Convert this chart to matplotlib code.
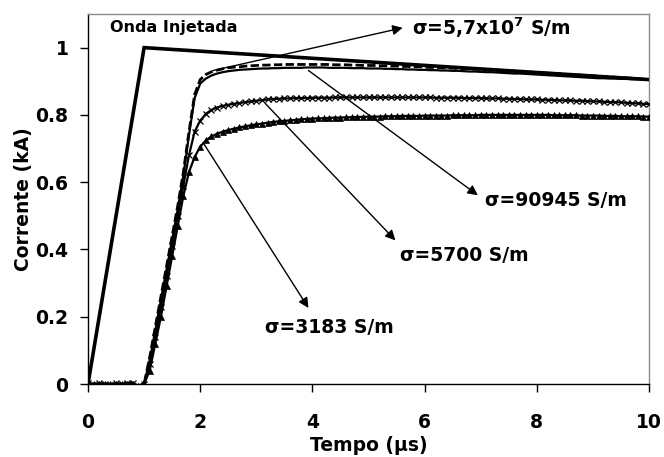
import numpy as np
import matplotlib
matplotlib.use("Agg")
import matplotlib.pyplot as plt

plt.rcParams['font.family'] = ['DejaVu Sans']
plt.rcParams['font.weight'] = 'bold'
plt.rcParams['mathtext.fontset'] = 'dejavusans'

# Time base (µs), 0.1 µs step
t = np.linspace(0, 10, 101)

# Injected wave
t_inj = [0.0, 1.0, 10.0]
i_inj = [0.0, 1.0, 0.905]

# Current for sigma = 5.7e7 S/m (kA)
s_57e7 = [0, 0, 0, 0, 0, 0, 0, 0, 0, -0.005,
          0.0,
          0.08, 0.17, 0.26, 0.35, 0.44, 0.53, 0.63, 0.75, 0.86, 0.905,
          0.92, 0.928, 0.933, 0.937, 0.94, 0.942, 0.943, 0.945, 0.946, 0.947,
          0.948, 0.948, 0.949, 0.949, 0.95, 0.95, 0.95, 0.95, 0.95, 0.95,
          0.95, 0.95, 0.95, 0.949, 0.949, 0.949, 0.948, 0.948, 0.947, 0.947,
          0.947, 0.946, 0.946, 0.945, 0.945, 0.944, 0.944, 0.943, 0.943, 0.942,
          0.941, 0.941, 0.94, 0.94, 0.939, 0.938, 0.938, 0.937, 0.936, 0.936,
          0.935, 0.934, 0.933, 0.932, 0.931, 0.93, 0.929, 0.928, 0.927, 0.926,
          0.925, 0.924, 0.923, 0.922, 0.921, 0.92, 0.919, 0.918, 0.917, 0.916,
          0.915, 0.914, 0.913, 0.912, 0.911, 0.91, 0.909, 0.908, 0.906, 0.905]

# Current for sigma = 90945 S/m (kA)
s_90945 = [0, 0, 0, 0, 0, 0, 0, 0, 0, -0.005,
           0.0,
           0.07, 0.16, 0.25, 0.34, 0.43, 0.52, 0.62, 0.74, 0.85, 0.893,
           0.908, 0.917, 0.923, 0.927, 0.93, 0.932, 0.934, 0.935, 0.936, 0.937,
           0.938, 0.938, 0.939, 0.939, 0.94, 0.94, 0.94, 0.94, 0.941, 0.941,
           0.941, 0.941, 0.94, 0.94, 0.94, 0.94, 0.939, 0.939, 0.939, 0.938,
           0.938, 0.938, 0.937, 0.937, 0.936, 0.936, 0.935, 0.935, 0.934, 0.934,
           0.933, 0.933, 0.932, 0.932, 0.931, 0.931, 0.93, 0.929, 0.929, 0.928,
           0.927, 0.927, 0.926, 0.925, 0.924, 0.923, 0.923, 0.922, 0.921, 0.92,
           0.919, 0.918, 0.917, 0.916, 0.915, 0.914, 0.913, 0.912, 0.911, 0.91,
           0.909, 0.909, 0.908, 0.908, 0.907, 0.907, 0.906, 0.906, 0.905, 0.905]

# Current for sigma = 5700 S/m (kA)
s_5700 = [0.003, -0.002, 0.002, 0, -0.003, 0.002, 0, 0.003, 0.004, -0.01,
          0.0,
          0.06, 0.14, 0.23, 0.32, 0.41, 0.50, 0.59, 0.68, 0.75, 0.783,
          0.803, 0.815, 0.822, 0.827, 0.83, 0.833, 0.835, 0.838, 0.84, 0.842,
          0.844, 0.846, 0.847, 0.848, 0.849, 0.849, 0.85, 0.85, 0.85, 0.851,
          0.851, 0.851, 0.851, 0.852, 0.852, 0.852, 0.852, 0.852, 0.852, 0.852,
          0.852, 0.852, 0.852, 0.852, 0.852, 0.852, 0.852, 0.852, 0.852, 0.852,
          0.852, 0.851, 0.851, 0.851, 0.851, 0.851, 0.85, 0.85, 0.85, 0.85,
          0.849, 0.849, 0.849, 0.848, 0.848, 0.847, 0.847, 0.846, 0.846, 0.846,
          0.845, 0.845, 0.844, 0.844, 0.843, 0.843, 0.842, 0.842, 0.841, 0.84,
          0.84, 0.839, 0.838, 0.838, 0.837, 0.836, 0.835, 0.834, 0.833, 0.832]

# Current for sigma = 3183 S/m (kA)
s_3183 = [0, 0, 0, 0, 0, 0, 0, 0, 0, -0.005,
          0.0,
          0.04, 0.12, 0.2, 0.29, 0.38, 0.47, 0.56, 0.63, 0.675, 0.705,
          0.724, 0.736, 0.744, 0.75, 0.755, 0.759, 0.763, 0.766, 0.769, 0.772,
          0.774, 0.777, 0.779, 0.781, 0.782, 0.784, 0.785, 0.787, 0.788, 0.789,
          0.79, 0.79, 0.791, 0.792, 0.792, 0.793, 0.793, 0.794, 0.794, 0.795,
          0.795, 0.795, 0.796, 0.796, 0.796, 0.797, 0.797, 0.797, 0.797, 0.798,
          0.798, 0.798, 0.798, 0.798, 0.799, 0.799, 0.799, 0.799, 0.799, 0.8,
          0.8, 0.8, 0.8, 0.8, 0.8, 0.8, 0.8, 0.8, 0.8, 0.8,
          0.8, 0.8, 0.799, 0.799, 0.799, 0.799, 0.799, 0.798, 0.798, 0.798,
          0.798, 0.797, 0.797, 0.797, 0.796, 0.796, 0.796, 0.796, 0.795, 0.795]

x_ticks = [0, 2, 4, 6, 8, 10]
y_ticks = [0, 0.2, 0.4, 0.6, 0.8, 1]
y_tick_labels = ['0', '0.2', '0.4', '0.6', '0.8', '1']

fig = plt.figure(figsize=(6.64, 4.57), dpi=100)
ax = fig.add_axes([88 / 664, 73 / 457, 561 / 664, 370 / 457])

ax.plot(t_inj, i_inj, color='black', lw=2.6, solid_joinstyle='miter', zorder=5)
ax.plot(t, s_57e7, color='black', lw=2.0, linestyle=(0, (3, 1.2)), zorder=4)
ax.plot(t, s_90945, color='black', lw=1.6, zorder=4)
ax.plot(t, s_5700, color='black', lw=1.6, marker='x', markersize=4.5,
        markeredgewidth=0.9, zorder=4)
ax.plot(t, s_3183, color='black', lw=1.6, marker='^', markersize=3.8,
        markeredgewidth=0.5, zorder=4)

ax.set_xlim(0, 10)
ax.set_ylim(0, 1.1)
ax.set_xticks(x_ticks)
ax.set_xticklabels([str(v) for v in x_ticks])
ax.set_yticks(y_ticks)
ax.set_yticklabels(y_tick_labels)
ax.tick_params(axis='both', direction='out', length=6, width=1,
               labelsize=13.5, colors='black')
ax.tick_params(axis='x', pad=15)
ax.tick_params(axis='y', pad=8)

for side in ('left', 'bottom'):
    ax.spines[side].set_color('black')
    ax.spines[side].set_linewidth(1.0)
for side in ('top', 'right'):
    ax.spines[side].set_color('#8c8c8c')
    ax.spines[side].set_linewidth(1.0)

ax.set_xlabel('Tempo (µs)', fontsize=13.5, fontweight='bold', labelpad=3)
ax.set_ylabel('Corrente (kA)', fontsize=13.5, fontweight='bold', labelpad=2)

ax.text(0.39, 1.059, 'Onda Injetada', fontsize=11.5, fontweight='bold',
        ha='left', va='center')

arrow = dict(arrowstyle='-|>', color='black', lw=1.0, mutation_scale=15,
             shrinkA=0, shrinkB=0)
ax.annotate('', xy=(5.61, 1.059), xytext=(2.23, 0.932), arrowprops=arrow)
ax.text(5.78, 1.059, r'σ=5,7x10$^{7}$ S/m', fontsize=13.5, fontweight='bold',
        ha='left', va='center')

ax.annotate('', xy=(6.95, 0.561), xytext=(3.93, 0.932), arrowprops=arrow)
ax.text(7.07, 0.546, 'σ=90945 S/m', fontsize=13.5, fontweight='bold',
        ha='left', va='center')

ax.annotate('', xy=(5.48, 0.427), xytext=(3.16, 0.834), arrowprops=arrow)
ax.text(5.57, 0.383, 'σ=5700 S/m', fontsize=13.5, fontweight='bold',
        ha='left', va='center')

ax.annotate('', xy=(3.93, 0.226), xytext=(2.05, 0.718), arrowprops=arrow)
ax.text(3.16, 0.169, 'σ=3183 S/m', fontsize=13.5, fontweight='bold',
        ha='left', va='center')

fig.savefig('out.png', dpi=100)
